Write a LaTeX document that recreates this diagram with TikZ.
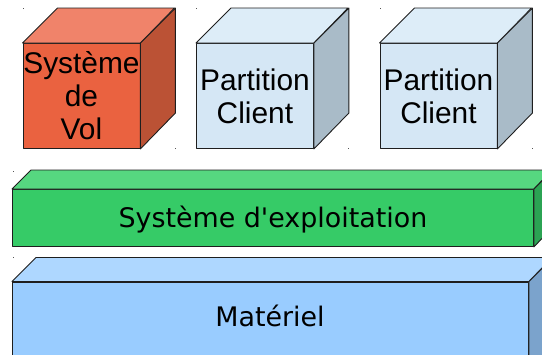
\documentclass[tikz,border=0pt]{standalone}
\usepackage{fontspec}
\setmainfont{Liberation Sans}
\newfontfamily\slabfont{DejaVu Sans}
\definecolor{volfront}{HTML}{EA6240}
\definecolor{voltop}{HTML}{F0836A}
\definecolor{volside}{HTML}{BB5235}
\definecolor{clifront}{HTML}{D5E7F5}
\definecolor{clitop}{HTML}{DDEDF8}
\definecolor{cliside}{HTML}{A9BBC8}
\definecolor{osfront}{HTML}{36CB67}
\definecolor{ostop}{HTML}{56D780}
\definecolor{osside}{HTML}{2BA353}
\definecolor{hwfront}{HTML}{99CCFF}
\definecolor{hwtop}{HTML}{AED7FF}
\definecolor{hwside}{HTML}{7BA3CC}
\definecolor{outline}{HTML}{1E1E1E}
\definecolor{dotc}{HTML}{555555}
\tikzset{
  edge/.style={draw=outline, line width=0.9bp, line join=round},
  cubefront/.style={edge, rectangle, inner sep=0pt, minimum width=117bp,
    minimum height=105bp, anchor=north west, align=center,
    font=\fontsize{30}{33}\selectfont},
  slabfront/.style={edge, rectangle, inner sep=0pt, anchor=north west},
  slablabel/.style={inner sep=0pt, text height=19.7bp, text depth=0bp,
    font=\slabfont\fontsize{27}{30}\selectfont},
  cornerdot/.style={fill=dotc},
}
\begin{document}
\begin{tikzpicture}[x=1bp,y=-1bp]
\useasboundingbox (0,0) rectangle (542,354);
\clip (0,0) rectangle (542,354);

% corner dots
\foreach \px/\py in {23/8,175/148,196/8,348/148,380/8,532/148,12.5/170.5,12.5/256.5}
  \fill[cornerdot] (\px,\py) rectangle ++(1.4,1.4);

% cube 1: Systeme de Vol
\node[cubefront, fill=volfront] (vol) at (22.5,43) {Système\\de\\Vol};
\filldraw[edge, fill=voltop] (vol.north west) -- ++(35,-35) -- ++(117,0) -- (vol.north east) -- cycle;
\filldraw[edge, fill=volside] (vol.north east) -- ++(35,-35) -- ++(0,105) -- (vol.south east) -- cycle;

% cube 2: Partition Client
\node[cubefront, fill=clifront] (cli1) at (196,43) {Partition\\Client};
\filldraw[edge, fill=clitop] (cli1.north west) -- ++(35,-35) -- ++(117,0) -- (cli1.north east) -- cycle;
\filldraw[edge, fill=cliside] (cli1.north east) -- ++(35,-35) -- ++(0,105) -- (cli1.south east) -- cycle;

% cube 3: Partition Client
\node[cubefront, fill=clifront] (cli2) at (379.5,43) {Partition\\Client};
\filldraw[edge, fill=clitop] (cli2.north west) -- ++(35,-35) -- ++(117,0) -- (cli2.north east) -- cycle;
\filldraw[edge, fill=cliside] (cli2.north east) -- ++(35,-35) -- ++(0,105) -- (cli2.south east) -- cycle;

% slab: Systeme d'exploitation
\node[slabfront, fill=osfront, minimum width=521bp, minimum height=57bp] (os) at (12,189) {};
\filldraw[edge, fill=ostop] (os.north west) -- ++(19,-19) -- ++(521,0) -- (os.north east) -- cycle;
\filldraw[edge, fill=osside] (os.north east) -- ++(19,-19) -- ++(0,57) -- (os.south east) -- cycle;
\node[slablabel] (oslabel) at (os.center) {Système d'exploitation};

% slab: Materiel
\node[slabfront, fill=hwfront, minimum width=516bp, minimum height=110bp] (hw) at (12,281.5) {};
\filldraw[edge, fill=hwtop] (hw.north west) -- ++(24,-24) -- ++(516,0) -- (hw.north east) -- cycle;
\filldraw[edge, fill=hwside] (hw.north east) -- ++(24,-24) -- ++(0,110) -- (hw.south east) -- cycle;
\node[slablabel] (hwlabel) at (270,316.7) {Matériel};
\end{tikzpicture}
\end{document}
